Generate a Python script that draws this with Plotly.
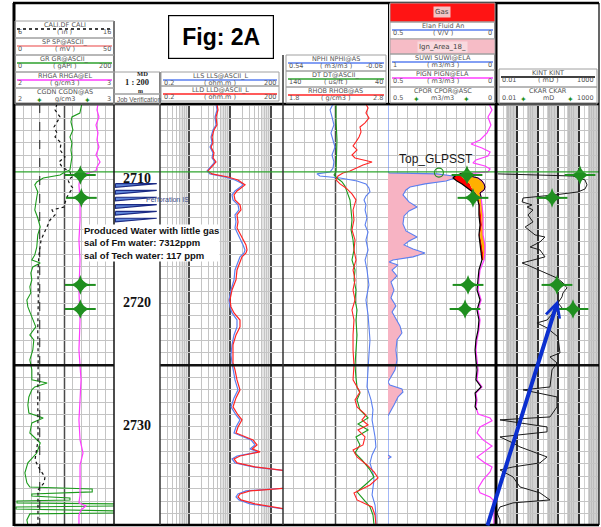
import numpy as np
import plotly.graph_objects as go

# ---------------- log data (depth in m MD) ----------------
# Track 1: GR (gAPI), CALI (in), RHGA (g/cm3)
GR_DEPTH = [2703.85, 2704.33, 2704.58, 2704.90, 2705.30, 2705.95, 2706.52, 2707.00, 2707.57, 2708.14,
            2708.79, 2709.19, 2709.35, 2709.60, 2709.84, 2710.16, 2710.40, 2710.65, 2710.97, 2711.38,
            2711.86, 2712.43, 2713.08, 2713.81, 2714.45, 2715.43, 2716.07, 2716.48, 2716.72, 2717.04,
            2717.53, 2718.10, 2718.66, 2719.15, 2719.72, 2720.28, 2721.09, 2721.34, 2721.90, 2722.55,
            2722.96, 2723.77, 2724.57, 2724.98, 2725.38, 2726.19, 2726.44, 2726.76, 2727.00, 2727.57,
            2728.22, 2728.87, 2729.27, 2729.68, 2730.49, 2731.30, 2732.11, 2732.91, 2733.72, 2734.53,
            2734.86, 2735.02, 2735.26, 2735.43, 2735.59, 2735.75, 2735.91, 2735.99, 2736.15, 2736.23,
            2736.40, 2736.48, 2736.64, 2736.80, 2736.96, 2737.04, 2737.53, 2737.94]
GR = [135, 133, 131, 115, 113, 117, 111, 115, 113, 115,
      113, 111, 101, 91, 57, 44, 40, 42, 46, 44,
      42, 40, 46, 51, 46, 44, 40, 34, 51, 36,
      32, 34, 30, 32, 24, 26, 34, 36, 42, 30,
      38, 36, 30, 32, 34, 34, 65, 40, 34, 28,
      26, 28, 57, 34, 30, 51, 44, 26, 20, 24,
      30, 156, 156, 34, 34, 111, 111, 4, 4, 205,
      205, 2, 2, 205, 205, 30, 24, 26]

CALI_DEPTH = [2703.85, 2704.33, 2704.90, 2705.30, 2705.71, 2706.19, 2706.52, 2707.00, 2707.57, 2708.14,
              2708.54, 2708.95, 2709.35, 2709.76, 2710.00, 2710.40, 2710.65, 2710.97, 2711.38, 2711.86,
              2712.19, 2712.43, 2712.83, 2713.24, 2713.81, 2714.29, 2714.86, 2715.43, 2716.07, 2717.29,
              2719.72, 2722.15, 2724.57, 2727.81, 2731.05, 2732.67, 2733.48, 2734.05, 2734.53, 2735.10,
              2737.94]
CALI = [10.24, 10.04, 10.55, 10.24, 9.94, 10.24, 10.04, 10.65, 10.55, 11.05,
        10.44, 10.75, 11.56, 11.76, 11.35, 11.56, 11.86, 11.56, 11.25, 11.05,
        10.95, 9.74, 10.04, 9.54, 9.23, 8.93, 8.63, 8.53, 8.42, 8.32,
        8.35, 8.30, 8.34, 8.30, 8.33, 8.02, 8.53, 9.03, 8.93, 8.32,
        8.32]
BIT_SIZE = 8.5

RHGA_DEPTH = [2703.85, 2704.33, 2704.90, 2705.55, 2706.19, 2706.76, 2707.33, 2707.98, 2708.54, 2708.95,
              2709.27, 2709.51, 2709.76, 2710.40, 2711.62, 2713.24, 2714.86, 2716.48, 2718.91, 2721.34,
              2723.77, 2726.19, 2727.81, 2729.43, 2731.05, 2732.11, 2733.08, 2734.29, 2735.51, 2736.15,
              2736.40, 2736.72, 2737.13, 2737.94]
RHGA = [2.838, 2.828, 2.848, 2.818, 2.838, 2.828, 2.848, 2.818, 2.859, 2.828,
        2.818, 2.707, 2.657, 2.646, 2.657, 2.657, 2.646, 2.657, 2.646, 2.657,
        2.646, 2.667, 2.657, 2.646, 2.657, 2.687, 2.657, 2.657, 2.657, 2.646,
        2.717, 2.667, 2.646, 2.646]

# Core points
CORE_DEPTH = [2709.6, 2711.45, 2718.5, 2720.45]
CGDN = [2.66, 2.67, 2.66, 2.66]
CPOR = [0.131, 0.103, 0.126, 0.140]
CKAR = [117, 5.0, 8.7, 53]

# Depth track
DEPTH_LABELS = [2710, 2720, 2730]
PERF_DEPTHS = [2710.3, 2710.85, 2711.4, 2712.0, 2712.55, 2713.1]
TOP_GLPSST = 2709.35

# Track 3: laterolog resistivities (ohm.m)
RES_DEPTH = [2703.85, 2704.33, 2704.90, 2705.55, 2705.95, 2706.52, 2707.00, 2707.33, 2707.81, 2708.22,
             2708.54, 2708.95, 2709.27, 2709.51, 2709.76, 2710.00, 2710.24, 2710.40, 2710.65, 2710.89,
             2711.21, 2711.62, 2712.02, 2712.43, 2712.83, 2713.40, 2713.89, 2714.37, 2714.86, 2715.26,
             2715.67, 2715.91, 2716.23, 2716.64, 2717.29, 2718.10, 2718.91, 2719.72, 2720.28, 2720.77,
             2721.34, 2721.90, 2722.55, 2723.36, 2724.17, 2724.82, 2725.38, 2726.19, 2727.00, 2727.65,
             2728.38, 2729.03, 2729.43, 2730.00, 2730.49, 2731.05, 2731.46, 2731.78, 2732.02, 2732.35,
             2732.59, 2732.91, 2733.24, 2733.56, 2734.78, 2734.94, 2735.18, 2735.43, 2735.67, 2735.91,
             2736.23, 2736.48, 2736.72, 2737.94]
LLD = [4.91, 5.20, 4.64, 4.91, 4.15, 3.71, 3.92, 3.51, 4.15, 3.92,
       4.64, 3.71, 2.96, 3.71, 9.11, 15.98, 21.2, 23.7, 18.91, 15.10,
       12.76, 13.50, 17.88, 18.91, 15.10, 15.98, 15.10, 17.88, 21.2, 25.0,
       26.5, 25.0, 20.0, 17.88, 15.10, 14.28, 11.41, 10.19, 10.78, 12.76,
       17.88, 17.88, 14.28, 12.06, 12.06, 12.06, 13.50, 15.10, 17.88, 14.28,
       12.06, 15.98, 20.0, 15.98, 14.28, 37.1, 46.5, 35.1, 55.0, 17.88,
       12.76, 15.10, 41.5, 260, 500, 260, 31.3, 17.88, 15.98, 18.91,
       41.5, 96.4, 300, 330]
LLS = [4.64, 4.91, 4.39, 4.64, 3.92, 3.51, 3.71, 3.32, 3.92, 3.71,
       4.39, 3.51, 2.80, 3.32, 7.70, 13.5, 18.9, 21.2, 16.9, 13.5,
       11.41, 12.06, 15.98, 16.9, 13.5, 14.28, 13.5, 15.98, 18.91, 21.2,
       23.7, 22.4, 17.88, 15.98, 13.5, 12.76, 10.78, 9.64, 10.19, 11.41,
       15.10, 15.10, 12.76, 11.41, 10.78, 11.41, 12.06, 13.5, 15.98, 12.76,
       10.78, 14.28, 17.88, 14.28, 12.76, 33.2, 41.5, 31.3, 49.1, 15.10,
       11.41, 13.5, 37.1, 250, 500, 250, 25.0, 15.98, 14.28, 16.9,
       31.3, 86.1, 300, 330]

# Track 4: NPHI (m3/m3), DT (us/ft), RHOB (g/cm3)
NPHI_DEPTH = [2703.85, 2704.33, 2704.90, 2705.55, 2706.19, 2706.76, 2707.33, 2707.98, 2708.54, 2709.03,
              2709.35, 2709.51, 2709.68, 2709.84, 2710.08, 2710.32, 2710.65, 2710.97, 2711.30, 2711.62,
              2712.02, 2712.43, 2713.08, 2713.64, 2714.21, 2714.86, 2715.67, 2716.48, 2717.29, 2718.50,
              2719.72, 2720.93, 2722.15, 2722.96, 2724.17, 2725.38, 2726.76, 2727.81, 2728.62, 2729.43,
              2730.81, 2731.62, 2732.27, 2732.91, 2733.72, 2734.29, 2735.51, 2736.32, 2737.13, 2737.94]
NPHI = [0.254, 0.271, 0.260, 0.249, 0.266, 0.254, 0.243, 0.260, 0.249, 0.254,
        0.271, 0.346, 0.329, 0.214, 0.117, 0.066, 0.049, 0.043, 0.066, 0.077,
        0.066, 0.071, 0.060, 0.071, 0.054, 0.066, 0.054, 0.071, 0.060, 0.049,
        0.066, 0.054, 0.049, 0.043, 0.049, 0.054, 0.060, 0.037, 0.026, 0.031,
        0.014, 0.009, 0.031, 0.043, 0.026, 0.020, 0.031, 0.014, 0.009, 0.009]

DT_DEPTH = [2703.85, 2705.14, 2706.76, 2708.38, 2709.35, 2709.60, 2709.84, 2710.16, 2710.49, 2710.97,
            2711.62, 2712.43, 2713.24, 2714.05, 2714.86, 2715.67, 2716.48, 2717.29, 2718.10, 2718.91,
            2719.72, 2720.53, 2721.34, 2722.55, 2723.77, 2724.98, 2726.03, 2726.76, 2727.25, 2727.81,
            2728.62, 2729.27, 2729.76, 2730.24, 2730.81, 2731.46, 2732.11, 2732.67, 2733.48, 2734.05,
            2734.70, 2735.26, 2735.91, 2736.48, 2737.13, 2737.94]
DT = [89.5, 89.5, 88.6, 89.5, 89.5, 91.4, 88.6, 83.8, 81.0, 79.0,
      76.2, 75.2, 74.3, 75.2, 73.3, 72.4, 74.3, 71.4, 72.4, 70.5,
      71.4, 69.5, 70.5, 69.5, 70.5, 71.4, 70.5, 69.5, 66.7, 69.5,
      66.7, 59.0, 68.6, 59.0, 70.5, 66.7, 71.4, 64.8, 57.1, 53.3,
      61.9, 69.5, 62.9, 57.1, 54.3, 53.3]

RHOB_DEPTH = [2703.85, 2704.17, 2704.58, 2704.98, 2705.38, 2705.71, 2706.11, 2706.52, 2706.92, 2707.25,
              2707.57, 2707.98, 2708.22, 2708.54, 2708.79, 2709.03, 2709.27, 2709.43, 2709.68, 2710.00,
              2710.32, 2710.65, 2711.13, 2711.62, 2712.43, 2713.24, 2714.05, 2714.86, 2715.67, 2716.48,
              2717.29, 2718.10, 2718.91, 2719.72, 2720.53, 2721.34, 2722.55, 2723.77, 2724.98, 2726.19,
              2726.76, 2727.17, 2727.81, 2728.38, 2729.03, 2729.43, 2729.84, 2730.24, 2730.81, 2731.46,
              2731.86, 2732.43, 2733.08, 2733.64, 2734.13, 2734.70, 2735.34, 2735.91, 2736.48, 2737.13,
              2737.94]
RHOB = [2.590, 2.610, 2.590, 2.619, 2.581, 2.533, 2.543, 2.524, 2.495, 2.467,
        2.505, 2.457, 2.486, 2.648, 2.562, 2.495, 2.438, 2.371, 2.324, 2.305,
        2.343, 2.400, 2.457, 2.495, 2.467, 2.476, 2.457, 2.486, 2.476, 2.495,
        2.467, 2.486, 2.467, 2.486, 2.457, 2.476, 2.467, 2.467, 2.476, 2.467,
        2.505, 2.533, 2.486, 2.505, 2.590, 2.552, 2.610, 2.514, 2.581, 2.562,
        2.467, 2.505, 2.600, 2.667, 2.705, 2.629, 2.476, 2.505, 2.648, 2.676,
        2.686]

# Track 5: ELAN fluid analysis (V/V)
ELAN_DEPTH = [2703.85, 2709.27, 2709.43, 2709.51, 2709.68, 2709.84, 2710.08, 2710.32, 2710.57, 2710.81,
              2711.21, 2711.78, 2712.19, 2712.51, 2712.91, 2713.56, 2714.13, 2714.62, 2714.94, 2715.26,
              2715.59, 2715.91, 2716.23, 2716.48, 2716.64, 2716.88, 2717.29, 2717.77, 2718.26, 2718.91,
              2719.55, 2720.20, 2720.69, 2721.34, 2721.82, 2722.39, 2722.96, 2723.77, 2724.57, 2725.38,
              2726.03, 2726.36, 2726.60, 2726.92, 2727.17, 2727.57, 2728.22, 2728.79, 2729.11, 2732.27,
              2732.43, 2732.59, 2737.94]
ELAN = [0.5, 0.5, 0.495, 0.271, 0.196, 0.187, 0.229, 0.327, 0.397, 0.416,
        0.430, 0.402, 0.364, 0.402, 0.425, 0.430, 0.416, 0.364, 0.402, 0.425,
        0.383, 0.327, 0.383, 0.477, 0.495, 0.453, 0.481, 0.458, 0.486, 0.472,
        0.486, 0.463, 0.481, 0.458, 0.444, 0.435, 0.458, 0.463, 0.458, 0.467,
        0.491, 0.5, 0.491, 0.435, 0.430, 0.453, 0.472, 0.491, 0.5, 0.5,
        0.486, 0.5, 0.5]

PIGN_DEPTH = [2703.85, 2704.33, 2704.90, 2705.55, 2706.19, 2706.76, 2707.09, 2707.41, 2707.73, 2708.06,
              2708.38, 2708.62, 2708.87, 2709.11, 2709.35, 2709.51, 2709.68, 2709.84, 2710.08, 2710.32,
              2710.57, 2710.81, 2711.05, 2711.38, 2712.02, 2712.83, 2713.64, 2714.45, 2715.26, 2715.91,
              2716.48, 2717.29, 2718.10, 2718.91, 2719.72, 2720.53, 2721.34, 2722.15, 2722.96, 2723.77,
              2724.57, 2725.38, 2726.19, 2726.76, 2727.25, 2727.81, 2728.38, 2728.95, 2729.27, 2729.51,
              2730.00, 2730.49, 2731.05, 2731.54, 2732.02, 2732.43, 2732.91, 2733.24, 2733.64, 2734.29,
              2734.94, 2735.34, 2735.67, 2735.91, 2736.72, 2737.94]
PIGN = [0.028, 0.014, 0.033, 0.019, 0.037, 0.070, 0.112, 0.061, 0.023, 0.033,
        0.089, 0.103, 0.047, 0.023, 0.033, 0.140, 0.117, 0.079, 0.061, 0.051,
        0.047, 0.051, 0.070, 0.065, 0.061, 0.056, 0.056, 0.056, 0.047, 0.047,
        0.051, 0.070, 0.075, 0.079, 0.065, 0.079, 0.070, 0.075, 0.084, 0.089,
        0.084, 0.079, 0.084, 0.061, 0.089, 0.084, 0.089, 0.079, 0.023, 0.014,
        0.070, 0.084, 0.056, 0.014, 0.051, 0.084, 0.047, 0.014, 0.023, 0.056,
        0.079, 0.070, 0.023, 0.009, 0.005, 0.005]

# Gas interval: left edge, split line and right edge
GAS_DEPTH = [2709.43, 2709.68, 2709.84, 2710.08, 2710.32, 2710.57, 2710.81, 2711.05, 2711.38, 2712.02,
             2712.83, 2713.64, 2714.45, 2715.26, 2715.91, 2716.48]
GAS_LEFT = [0.150, 0.187, 0.196, 0.178, 0.154, 0.136, 0.117, 0.098, 0.084, 0.075,
            0.075, 0.070, 0.075, 0.070, 0.065, 0.061]
GAS_MID = [0.150, 0.159, 0.150, 0.131, 0.117, 0.112, 0.103, 0.089, 0.079, 0.070,
           0.065, 0.061, 0.070, 0.061, 0.056, 0.056]
GAS_RIGHT = [0.150, 0.117, 0.079, 0.061, 0.051, 0.047, 0.051, 0.070, 0.065, 0.061,
             0.056, 0.056, 0.056, 0.047, 0.047, 0.051]
PHI_LOWER_DEPTH = [2717.29, 2718.10, 2718.91, 2719.72, 2720.53, 2721.34, 2722.15, 2722.96, 2723.77, 2724.57,
                   2725.38, 2726.19, 2726.76, 2727.25, 2727.81, 2728.38, 2728.62]
PHI_LOWER = [0.075, 0.079, 0.084, 0.070, 0.084, 0.075, 0.079, 0.089, 0.093, 0.089,
             0.084, 0.089, 0.065, 0.093, 0.089, 0.093, 0.084]

# Track 6: permeability (mD)
KINT_DEPTH = [2709.51, 2709.68, 2710.00, 2710.40, 2710.73, 2710.97, 2711.21, 2711.38, 2711.46, 2711.78,
              2712.02, 2712.19, 2712.43, 2712.83, 2713.40, 2713.81, 2714.21, 2714.45, 2714.62, 2715.02,
              2715.43, 2715.67, 2716.23, 2716.48, 2716.72, 2716.88, 2717.45, 2717.94, 2718.34, 2718.74,
              2719.15, 2719.47, 2719.96, 2720.36, 2720.77, 2721.34, 2721.58, 2721.98, 2722.71, 2724.01,
              2724.33, 2724.82, 2725.38, 2726.76, 2727.00, 2727.17, 2727.57, 2728.38, 2729.19, 2729.43,
              2730.00, 2730.40, 2730.81, 2731.30, 2731.62, 2732.43, 2732.91, 2733.24, 2733.48, 2734.05,
              2734.86, 2735.34, 2735.91, 2736.15, 2736.48, 2736.96, 2737.53, 2737.94]
KINT = [0.011, 53, 206, 258, 206, 93.5, 6.97, 0.58, 0.19, 0.17,
        0.52, 0.30, 0.58, 0.33, 0.58, 0.24, 0.52, 0.73, 2.25, 1.28,
        0.42, 1.28, 2.25, 0.58, 0.17, 0.30, 1.80, 8.7, 17.2, 27,
        17.2, 15.3, 9.8, 15.3, 5.56, 2.83, 0.91, 2.83, 9.8, 12.2,
        3.96, 8.7, 4.97, 3.96, 0.19, 0.58, 8.7, 8.7, 3.96, 0.014,
        2.83, 2.83, 0.014, 0.061, 0.134, 2.83, 1.28, 0.061, 0.014, 0.061,
        0.134, 1.28, 3.96, 0.061, 0.014, 0.010, 0.014, 0.014]

for a, b in [(GR_DEPTH, GR), (CALI_DEPTH, CALI), (RHGA_DEPTH, RHGA), (RES_DEPTH, LLD), (RES_DEPTH, LLS),
             (NPHI_DEPTH, NPHI), (DT_DEPTH, DT), (RHOB_DEPTH, RHOB), (ELAN_DEPTH, ELAN),
             (PIGN_DEPTH, PIGN), (GAS_DEPTH, GAS_LEFT), (GAS_DEPTH, GAS_MID), (GAS_DEPTH, GAS_RIGHT),
             (PHI_LOWER_DEPTH, PHI_LOWER), (KINT_DEPTH, KINT)]:
    assert len(a) == len(b), (len(a), len(b))

# ---------------- page geometry ----------------
W, H = 601, 527


def px(x):
    return x / W


def py(y):
    return 1 - y / H


T1, TD, T3, T4, T5, T6 = (15, 114), (114, 160), (160, 283), (283, 388), (388, 495), (497, 599)
LOG_TOP, LOG_BOT = 104, 525
DEPTH_TOP, DEPTH_BOT = 2703.85, 2737.94

GRID = '#c4c4c4'
DARK = '#4a4a4a'
GREEN = '#1f8f1f'
MAGENTA = '#ff3cff'
BLUE = '#5a7ff0'
RED = '#ff2424'
HDR_FONT = 'DejaVu Sans'


def xdom(t):
    return [px(t[0]), px(t[1])]


YDOM = [py(LOG_BOT), py(LOG_TOP)]
BASE_X = dict(showticklabels=False, ticks='', zeroline=False, showline=False, anchor='y',
              gridcolor=GRID, gridwidth=1, showgrid=True)
HIDDEN_X = dict(visible=False, showgrid=False, zeroline=False, anchor='y')


def log_minor(lo_dec, hi_dec):
    vals = []
    for k in range(lo_dec, hi_dec):
        for m in range(2, 10):
            vals.append(m * 10.0 ** k)
    return vals


fig = go.Figure()

# ---- track 1 ----
fig.add_trace(go.Scatter(x=GR, y=GR_DEPTH, xaxis='x', yaxis='y', mode='lines',
                         line=dict(color='#1c9a1c', width=1.1)))
fig.add_trace(go.Scatter(x=[BIT_SIZE, BIT_SIZE], y=[DEPTH_TOP, DEPTH_BOT], xaxis='x7', yaxis='y',
                         mode='lines', line=dict(color='#222', width=1, dash='dash')))
fig.add_trace(go.Scatter(x=CALI, y=CALI_DEPTH, xaxis='x7', yaxis='y', mode='lines',
                         line=dict(color='#111', width=1.2, dash='dot')))
fig.add_trace(go.Scatter(x=RHGA, y=RHGA_DEPTH, xaxis='x8', yaxis='y', mode='lines',
                         line=dict(color=MAGENTA, width=1.2)))


def core_markers(xv, xa):
    fig.add_trace(go.Scatter(x=xv, y=CORE_DEPTH, xaxis=xa, yaxis='y', mode='markers',
                             marker=dict(symbol='line-ew', size=22, line=dict(color=GREEN, width=2))))
    fig.add_trace(go.Scatter(x=xv, y=CORE_DEPTH, xaxis=xa, yaxis='y', mode='markers',
                             marker=dict(symbol='star-diamond', size=14, color=GREEN,
                                         line=dict(width=0))))


core_markers(CGDN, 'x8')

# ---- depth track ----
for d in PERF_DEPTHS:
    fig.add_trace(go.Scatter(x=[0.03, 0.93, 0.03, 0.03], y=[d, d, d + 0.3, d], xaxis='x2', yaxis='y2',
                             mode='lines', fill='toself', fillcolor='#5f86d8',
                             line=dict(color='#1b2a84', width=1.2)))
fig.add_trace(go.Scatter(x=[0.5] * len(DEPTH_LABELS), y=DEPTH_LABELS, xaxis='x2', yaxis='y2', mode='text',
                         text=[f'<b>{d}</b>' for d in DEPTH_LABELS],
                         textfont=dict(family='Liberation Serif, Times New Roman, serif', size=14, color='#111')))

# ---- track 3 ----
fig.add_trace(go.Scatter(x=LLS, y=RES_DEPTH, xaxis='x3', yaxis='y', mode='lines',
                         line=dict(color=BLUE, width=1.2)))
fig.add_trace(go.Scatter(x=LLD, y=RES_DEPTH, xaxis='x3', yaxis='y', mode='lines',
                         line=dict(color=RED, width=1.2)))

# ---- track 4 ----
fig.add_trace(go.Scatter(x=NPHI, y=NPHI_DEPTH, xaxis='x4', yaxis='y', mode='lines',
                         line=dict(color=BLUE, width=1.1)))
fig.add_trace(go.Scatter(x=DT, y=DT_DEPTH, xaxis='x9', yaxis='y', mode='lines',
                         line=dict(color='#1c9a1c', width=1.1)))
fig.add_trace(go.Scatter(x=RHOB, y=RHOB_DEPTH, xaxis='x10', yaxis='y', mode='lines',
                         line=dict(color=RED, width=1.1)))

# ---- track 5 ----
fig.add_trace(go.Scatter(x=ELAN + [0.5, 0.5], y=ELAN_DEPTH + [ELAN_DEPTH[-1], ELAN_DEPTH[0]],
                         xaxis='x5', yaxis='y', mode='lines', fill='toself', fillcolor='#f7b3c3',
                         line=dict(width=0)))
fig.add_trace(go.Scatter(x=ELAN, y=ELAN_DEPTH, xaxis='x5', yaxis='y', mode='lines',
                         line=dict(color=BLUE, width=1.1)))
fig.add_trace(go.Scatter(x=GAS_LEFT + GAS_MID[::-1], y=GAS_DEPTH + GAS_DEPTH[::-1], xaxis='x5', yaxis='y',
                         mode='lines', fill='toself', fillcolor='#ff0000', line=dict(width=0)))
fig.add_trace(go.Scatter(x=GAS_MID + GAS_RIGHT[::-1], y=GAS_DEPTH + GAS_DEPTH[::-1], xaxis='x5', yaxis='y',
                         mode='lines', fill='toself', fillcolor='#ffb000', line=dict(width=0)))
fig.add_trace(go.Scatter(x=PIGN, y=PIGN_DEPTH, xaxis='x5', yaxis='y', mode='lines',
                         line=dict(color=MAGENTA, width=1.2)))
fig.add_trace(go.Scatter(x=GAS_LEFT + PHI_LOWER, y=GAS_DEPTH + PHI_LOWER_DEPTH, xaxis='x5', yaxis='y',
                         mode='lines', line=dict(color='#000', width=1.2)))
fig.add_trace(go.Scatter(x=GAS_RIGHT[:9], y=GAS_DEPTH[:9], xaxis='x5', yaxis='y',
                         mode='lines', line=dict(color='#000', width=1)))
core_markers(CPOR, 'x5')
fig.add_trace(go.Scatter(x=[0.262], y=[TOP_GLPSST + 0.05], xaxis='x5', yaxis='y', mode='markers',
                         marker=dict(symbol='circle-open', size=9, color=GREEN, line=dict(width=1.2))))

# ---- track 6 ----
fig.add_trace(go.Scatter(x=KINT, y=KINT_DEPTH, xaxis='x6', yaxis='y', mode='lines',
                         line=dict(color='#1a1a1a', width=1)))
core_markers(CKAR, 'x6')

# ---------------- axes ----------------
layout = dict(
    width=W, height=H, margin=dict(l=0, r=0, t=0, b=0),
    paper_bgcolor='white', plot_bgcolor='rgba(0,0,0,0)', showlegend=False,
    yaxis=dict(domain=YDOM, range=[DEPTH_BOT, DEPTH_TOP], showticklabels=False, ticks='', zeroline=False,
               tick0=2700, dtick=1, showgrid=True, gridcolor=GRID, gridwidth=1, anchor='x'),
    yaxis2=dict(domain=YDOM, matches='y', visible=False, showgrid=False, anchor='x2'),
    xaxis=dict(domain=xdom(T1), range=[0, 200],
               tickvals=[200 * i / 12 for i in range(1, 12) if i != 6], **BASE_X),
    xaxis2=dict(domain=xdom(TD), range=[0, 1], visible=False, showgrid=False, anchor='y2'),
    xaxis3=dict(domain=xdom(T3), type='log', range=[np.log10(0.2), np.log10(200)],
                tickvals=[1, 10, 100],
                minor=dict(tickvals=[0.3, 0.4, 0.5, 0.6, 0.7, 0.8, 0.9] + log_minor(0, 2),
                           showgrid=True, gridcolor='#c4c4c4', gridwidth=1),
                **{**BASE_X, 'gridcolor': DARK, 'gridwidth': 1.6}),
    xaxis4=dict(domain=xdom(T4), range=[0.54, -0.06],
                tickvals=[0.54 - 0.06 * i for i in range(1, 10) if i != 5], **BASE_X),
    xaxis5=dict(domain=xdom(T5), range=[0.5, 0], tickvals=[0.5 * i / 11 for i in range(1, 11)], **BASE_X),
    xaxis6=dict(domain=xdom(T6), type='log', range=[-2, 3], tickvals=[0.1, 1, 10, 100],
                minor=dict(tickvals=log_minor(-2, 3), showgrid=True, gridcolor='#d0d0d0', gridwidth=1),
                **{**BASE_X, 'gridcolor': '#303030', 'gridwidth': 1.6}),
    xaxis7=dict(overlaying='x', range=[6, 16], **HIDDEN_X),
    xaxis8=dict(overlaying='x', range=[2, 3], **HIDDEN_X),
    xaxis9=dict(overlaying='x4', range=[140, 40], **HIDDEN_X),
    xaxis10=dict(overlaying='x4', range=[1.8, 2.8], **HIDDEN_X),
)

shapes = []
annotations = []


def pline(x0, y0, x1, y1, color='#000', width=1, dash='solid', layer='above'):
    shapes.append(dict(type='line', xref='paper', yref='paper', x0=px(x0), y0=py(y0), x1=px(x1), y1=py(y1),
                       line=dict(color=color, width=width, dash=dash), layer=layer))


def prect(x0, y0, x1, y1, line='#a0a0a0', fill=None, width=1):
    shapes.append(dict(type='rect', xref='paper', yref='paper', x0=px(x0), y0=py(y0), x1=px(x1), y1=py(y1),
                       line=dict(color=line, width=width), fillcolor=fill or 'rgba(0,0,0,0)', layer='above'))


def ptext(x, y, s, size=6.5, color='#555555', xanchor='center', family=HDR_FONT, **kw):
    kw.setdefault('borderpad', 0)
    annotations.append(dict(x=px(x), y=py(y), xref='paper', yref='paper', text=s, showarrow=False,
                            xanchor=xanchor, yanchor='middle',
                            font=dict(family=family, size=size, color=color), **kw))


def header_row(x0, x1, y0, y1, title, lo, unit, hi, color='#000', dash='solid', stars=False):
    prect(x0, y0, x1, y1)
    cx = (x0 + x1) / 2
    ptext(cx, y0 + 4, title)
    if stars:
        for f in (0.25, 0.73):
            ptext(x0 + (x1 - x0) * f, y0 + 12.5, '✦', size=8, color=GREEN, family='DejaVu Sans')
    else:
        pline(x0 + 2, y0 + 8, x1 - 2, y0 + 8, color, 1.3, dash)
    ptext(x0 + 2, y0 + 11.2, lo, xanchor='left')
    ptext(x1 - 2, y0 + 11.2, hi, xanchor='right')
    ptext(cx, y0 + 11, unit)


# track 6 shaded bands (3..10 of each decade)
for k in range(-2, 3):
    shapes.append(dict(type='rect', xref='x6', yref='y domain', x0=3 * 10.0 ** k, x1=10.0 ** (k + 1),
                       y0=0, y1=1, fillcolor='#bdbdbd', line=dict(width=0), layer='below'))
# track 3 light bands (6..10 of each decade)
for lo, hi in [(0.6, 1), (6, 10), (60, 100)]:
    shapes.append(dict(type='rect', xref='x3', yref='y domain', x0=lo, x1=hi,
                       y0=0, y1=1, fillcolor='#e4e4e4', line=dict(width=0), layer='below'))

# centre lines of linear tracks
for xa, v in [('x', 100), ('x4', 0.24)]:
    shapes.append(dict(type='line', xref=xa, yref='y domain', x0=v, x1=v, y0=0, y1=1,
                       line=dict(color=DARK, width=1.5), layer='below'))
# 25 m depth line
for xa in ['x', 'x3', 'x4', 'x5', 'x6']:
    shapes.append(dict(type='line', xref=f'{xa} domain', yref='y', x0=0, x1=1, y0=2725, y1=2725,
                       line=dict(color='#111', width=2.5), layer='above'))
# formation top
shapes.append(dict(type='line', xref='paper', yref='y', x0=px(15), x1=px(599), y0=TOP_GLPSST, y1=TOP_GLPSST,
                   line=dict(color='#2ea52e', width=1.2), layer='above'))

# frame
pline(13, 3, 599, 3, '#000', 2.5)
pline(14, 3, 14, 526, '#000', 3)
pline(14, LOG_TOP, 599, LOG_TOP, '#000', 2.5)
pline(14, LOG_BOT, 599, LOG_BOT, '#000', 2.5)
pline(114, 21, 114, LOG_BOT, '#111', 1.5)
pline(160, 72, 160, LOG_BOT, '#333', 1.5)
pline(283, 55, 283, LOG_BOT, '#333', 1.5)
pline(388.5, 3, 388.5, LOG_TOP, '#000', 1)
pline(496, 3, 496, LOG_BOT, '#000', 3)
pline(599, 3, 599, LOG_BOT, '#000', 1.2)

# ---- headers ----
header_row(15, 114, 21, 38, 'CALI.DF CALI', '6', '( in )', '16', '#000', 'dot')
header_row(15, 114, 38, 55, 'SP SP@ASCII_', '0', '( mV )', '50', '#f08080')
header_row(15, 114, 55, 72, 'GR GR@ASCII_', '0', '( gAPI )', '200', '#2ca02c')
header_row(15, 114, 72, 88, 'RHGA RHGA@EL', '2', '( g/cm3 )', '3', MAGENTA)
header_row(15, 114, 88, 104, 'CGDN CGDN@AS', '2', 'g/cm3', '3', stars=True)

prect(114, 72, 160, 94)
prect(114, 94, 160, 104)
ptext(142, 74, '<b>MD</b>', size=6.5, color='#222', family='Liberation Serif')
ptext(137, 82.2, '<b>1 : 200</b>', size=8.5, color='#222', family='Liberation Serif')
ptext(140, 90.5, '<b>m</b>', size=6, color='#222', family='Liberation Serif')
ptext(116, 99, 'Job Verification', size=6.5, xanchor='left', family='Arial')

header_row(161, 279, 72, 86, 'LLS LLS@ASCII_L', '0.2', '( ohm.m )', '200', BLUE)
header_row(161, 279, 86, 101, 'LLD LLD@ASCII_L', '0.2', '( ohm.m )', '200', RED)

header_row(286, 386, 55, 71, 'NPHI NPHI@AS', '0.54', '( m3/m3 )', '-0.06', BLUE)
header_row(286, 386, 71, 87, 'DT DT@ASCII_', '140', '( us/ft )', '40', '#2ca02c')
header_row(286, 386, 87, 103, 'RHOB RHOB@AS', '1.8', '( g/cm3 )', '2.8', RED)

prect(390, 3, 495, 22, line='#a0a0a0', fill='#ff1414')
ptext(442, 12.5, 'Gas', size=7, color='#444', bgcolor='#f3c4c4', borderpad=1)
header_row(390, 495, 22, 39, 'Elan Fluid An', '0.5', '( V/V )', '0', BLUE)
prect(390, 39, 495, 54, line='#a0a0a0', fill='#f6bcc6')
ptext(442, 46.5, 'Ign_Area_18_', size=7, color='#444', bgcolor='#f9d9de', borderpad=1)
header_row(390, 495, 54, 70, 'SUWI SUWI@ELA', '1', '( m3/m3 )', '0', BLUE)
header_row(390, 495, 70, 87, 'PIGN PIGN@ELA', '0.5', '( m3/m3 )', '0', MAGENTA)
header_row(390, 495, 87, 103, 'CPOR CPOR@ASC', '0.5', 'm3/m3', '0', stars=True)

header_row(499, 597, 69, 87, 'KINT KINT', '0.01', '( mD )', '1000', '#000')
header_row(499, 597, 87, 104, 'CKAR CKAR', '0.01', 'mD', '1000', stars=True)

# ---- titles and remarks ----
annotations.append(dict(x=px(220.5), y=py(37), xref='paper', yref='paper', text='<b>Fig: 2A</b>',
                        showarrow=False, font=dict(family='Arial', size=23, color='#000'),
                        bordercolor='#000', borderwidth=1.2, borderpad=0, bgcolor='white',
                        width=104, height=42, xanchor='center', yanchor='middle'))
ptext(436, 159, 'Top_GLPSST', size=12, color='#1a1a1a', family='Arial')
ptext(145, 199, 'Perforation IS', size=7, color='#3a4a86', xanchor='left', family='Arial')
ptext(83, 243, '<b>Produced Water with little gas<br>sal of Fm water: 7312ppm<br>sal of Tech water: 117 ppm</b>',
      size=9.5, color='#111', xanchor='left', align='left', bgcolor='white', family='Arial')
annotations.append(dict(x=px(558), y=py(300), xref='paper', yref='paper', text='', showarrow=True,
                        ax=-71, ay=232, arrowcolor='#0b2fcf', arrowwidth=4, arrowhead=5, arrowsize=0.7,
                        standoff=0))

layout['shapes'] = shapes
layout['annotations'] = annotations
fig.update_layout(**layout)
fig.write_html('out.html')
